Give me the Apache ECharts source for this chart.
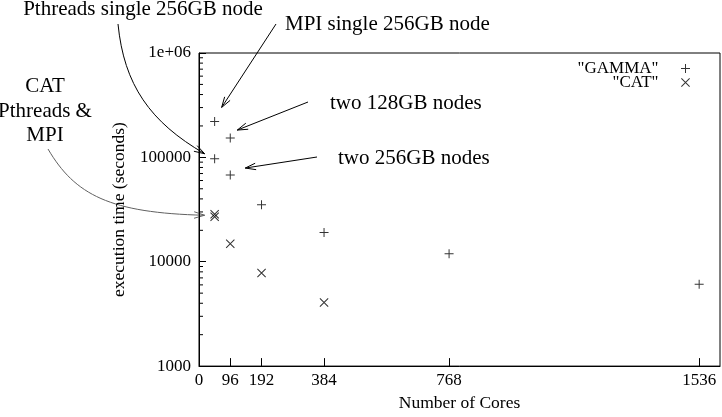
<!DOCTYPE html>
<html>
<head>
<meta charset="utf-8">
<script src="https://cdn.jsdelivr.net/npm/echarts@6/dist/echarts.min.js"></script>
<style>
  html, body { margin: 0; padding: 0; background: #fff; }
  #chart { width: 722px; height: 417px; }
</style>
</head>
<body>
<div id="chart"></div>
<script>
// execution time vs number of cores
const gammaCores = [48, 48, 96, 96, 192, 384, 768, 1536]
const gammaTime = [221000, 97000, 153000, 67700, 35100, 19100, 11900, 6080]
const catCores = [48, 48, 96, 192, 384]
const catTime = [28500, 27000, 14900, 7800, 4060]
const xTicks = [0, 96, 192, 384, 768, 1536]
const yTickLabels = { 1000: '1000', 10000: '10000', 100000: '100000', 1000000: '1e+06' }
// log minor ticks 2..9 in each decade
const yMinorTicks = []
for (let d = 1000; d < 1000000; d *= 10) {
  for (let k = 2; k <= 9; k++) yMinorTicks.push(d * k)
}

const font = '"Liberation Serif", "Times New Roman", serif'
const plusPath = 'path://M0,4.45H10V5.55H0ZM4.45,0H5.55V10H4.45Z'
const crossPath = 'path://M0,0.8L0.8,0L10,9.2L9.2,10ZM9.2,0L10,0.8L0.8,10L0,9.2Z'

const chart = echarts.init(document.getElementById('chart'))

chart.setOption({
  animation: false,
  grid: {
    left: 199,
    right: 2,
    top: 53,
    bottom: 40,
    show: true,
    borderColor: '#000',
    borderWidth: 1
  },
  legend: {
    orient: 'vertical',
    right: 27,
    top: 55,
    align: 'right',
    itemWidth: 44,
    itemHeight: 9,
    itemGap: -3,
    selectedMode: false,
    textStyle: { fontFamily: font, fontSize: 17, color: '#000' },
    data: [
      { name: '"GAMMA"', icon: plusPath },
      { name: '"CAT"', icon: crossPath }
    ]
  },
  xAxis: {
    type: 'value',
    min: 0,
    max: 1600,
    name: 'Number of Cores',
    nameLocation: 'middle',
    nameGap: 26,
    nameTextStyle: { fontFamily: font, fontSize: 17.5, color: '#000' },
    axisLine: { show: true, onZero: false, lineStyle: { color: '#000', width: 1 } },
    axisTick: { show: true, inside: true, length: 8, customValues: xTicks, lineStyle: { color: '#000' } },
    axisLabel: {
      customValues: xTicks,
      fontFamily: font,
      fontSize: 17,
      color: '#000',
      margin: 6,
      formatter: v => String(v)
    },
    splitLine: { show: false }
  },
  yAxis: {
    type: 'log',
    logBase: 10,
    min: 1000,
    max: 1000000,
    splitNumber: 3,
    name: 'execution time (seconds)',
    nameLocation: 'middle',
    nameGap: 71,
    nameTextStyle: { fontFamily: font, fontSize: 17.5, color: '#000' },
    axisLine: { show: true, lineStyle: { color: '#000', width: 1 } },
    axisTick: { show: true, inside: true, length: 7, lineStyle: { color: '#000' } },
    axisLabel: {
      fontFamily: font,
      fontSize: 17,
      color: '#000',
      margin: 8,
      formatter: v => yTickLabels[Math.round(v)] || ''
    },
    splitLine: { show: false }
  },
  series: [
    {
      name: '"GAMMA"',
      type: 'scatter',
      symbol: plusPath,
      symbolSize: 9,
      itemStyle: { color: '#000' },
      data: gammaCores.map((c, i) => [c, gammaTime[i]])
    },
    {
      name: '"CAT"',
      type: 'scatter',
      symbol: crossPath,
      symbolSize: 9,
      itemStyle: { color: '#000' },
      data: catCores.map((c, i) => [c, catTime[i]])
    },
    {
      name: 'minor',
      type: 'custom',
      silent: true,
      data: yMinorTicks.map(v => [0, v]),
      renderItem: (params, api) => {
        const p = api.coord([0, api.value(1)])
        return {
          type: 'line',
          shape: { x1: p[0], y1: p[1], x2: p[0] + 4, y2: p[1] },
          style: { stroke: '#000', lineWidth: 1 }
        }
      }
    }
  ]
})

// annotations, tips placed next to the points they point at
const px = (x, y) => chart.convertToPixel({ gridIndex: 0 }, [x, y])

function head(tip, from, color) {
  const a = Math.atan2(tip[1] - from[1], tip[0] - from[0])
  const len = 11
  const s = 0.3
  return {
    type: 'polyline',
    shape: {
      points: [
        [tip[0] - len * Math.cos(a - s), tip[1] - len * Math.sin(a - s)],
        tip,
        [tip[0] - len * Math.cos(a + s), tip[1] - len * Math.sin(a + s)]
      ]
    },
    style: { stroke: color, lineWidth: 1, fill: null }
  }
}

function straight(from, tip) {
  return [
    { type: 'line', shape: { x1: from[0], y1: from[1], x2: tip[0], y2: tip[1] }, style: { stroke: '#000', lineWidth: 1 } },
    head(tip, from, '#000')
  ]
}

function curve(from, c1, c2, tip, color) {
  return [
    {
      type: 'bezierCurve',
      shape: { x1: from[0], y1: from[1], cpx1: c1[0], cpy1: c1[1], cpx2: c2[0], cpy2: c2[1], x2: tip[0], y2: tip[1] },
      style: { stroke: color, lineWidth: 1, fill: null }
    },
    head(tip, c2, color)
  ]
}

function label(text, x, y, align) {
  return {
    type: 'text',
    x: x,
    y: y,
    style: {
      text: text,
      font: '21px ' + font,
      fill: '#000',
      align: align,
      verticalAlign: 'middle',
      lineHeight: 24.5
    }
  }
}

const off = (p, dx, dy) => [p[0] + dx, p[1] + dy]
const pMpi = px(gammaCores[0], gammaTime[0])
const pPth = px(gammaCores[1], gammaTime[1])
const p128 = px(gammaCores[2], gammaTime[2])
const p256 = px(gammaCores[3], gammaTime[3])
const pCat = px(catCores[0], catTime[0])

chart.setOption({
  graphic: [
    label('Pthreads single 256GB node', 143, 9, 'center'),
    label('MPI single 256GB node', 285, 24, 'left'),
    label('two 128GB nodes', 330, 103, 'left'),
    label('two 256GB nodes', 338, 158, 'left'),
    label('CAT\nPthreads &\nMPI', 45, 111, 'center'),
    ...curve([118, 24], [124, 85], [150, 122], off(pPth, -10, -5), '#000'),
    ...straight([276, 24], off(pMpi, 7, -14)),
    ...straight([308, 102], off(p128, 7, -8)),
    ...straight([317, 157], off(p256, 15, -7)),
    ...curve([48, 149], [75, 195], [110, 213], off(pCat, -10, 1), '#606060')
  ]
})
</script>
</body>
</html>
